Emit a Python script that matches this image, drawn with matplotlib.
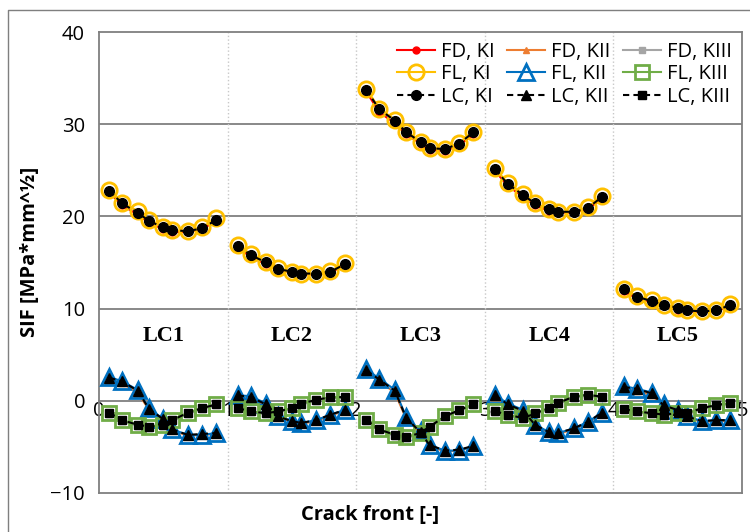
import numpy as np
import matplotlib.pyplot as plt
from matplotlib.lines import Line2D

plt.rcParams['font.family'] = ['Open Sans', 'DejaVu Sans']

# Posiciones a lo largo del frente de grieta (9 puntos por caso de carga)
crack_front = [0.08, 0.18, 0.30, 0.39, 0.50, 0.57, 0.69, 0.80, 0.91,
               1.08, 1.18, 1.30, 1.39, 1.50, 1.57, 1.69, 1.80, 1.91,
               2.08, 2.18, 2.30, 2.39, 2.50, 2.57, 2.69, 2.80, 2.91,
               3.08, 3.18, 3.30, 3.39, 3.50, 3.57, 3.69, 3.80, 3.91,
               4.08, 4.18, 4.30, 4.39, 4.50, 4.57, 4.69, 4.80, 4.91]
load_cases = ['LC1', 'LC2', 'LC3', 'LC4', 'LC5']
n_pts = 9

# KI
ki_fd = [22.6, 21.2, 20.2, 19.3, 18.6, 18.3, 18.3, 18.6, 19.5,
         16.6, 15.6, 14.8, 14.2, 13.9, 13.7, 13.7, 13.9, 14.7,
         33.5, 31.3, 30.1, 28.9, 27.9, 27.2, 27.1, 27.7, 28.9,
         24.9, 23.3, 22.1, 21.2, 20.6, 20.4, 20.4, 20.8, 21.9,
         11.9, 11.1, 10.7, 10.3, 9.9, 9.7, 9.6, 9.7, 10.3]
ki_fl = [22.9, 21.5, 20.6, 19.6, 18.9, 18.5, 18.4, 18.8, 19.8,
         16.9, 15.9, 15.1, 14.4, 14.0, 13.8, 13.8, 14.1, 14.9,
         33.8, 31.7, 30.5, 29.2, 28.1, 27.4, 27.3, 28.0, 29.2,
         25.2, 23.6, 22.4, 21.4, 20.8, 20.5, 20.5, 21.0, 22.2,
         12.1, 11.4, 10.9, 10.4, 10.1, 9.8, 9.7, 9.9, 10.5]
ki_lc = [22.8, 21.4, 20.4, 19.5, 18.8, 18.5, 18.4, 18.7, 19.6,
         16.8, 15.8, 15.0, 14.3, 14.0, 13.8, 13.8, 14.0, 14.8,
         33.7, 31.6, 30.4, 29.1, 28.1, 27.4, 27.3, 27.9, 29.1,
         25.1, 23.5, 22.3, 21.4, 20.8, 20.5, 20.5, 20.9, 22.1,
         12.1, 11.3, 10.8, 10.4, 10.1, 9.8, 9.7, 9.8, 10.4]

# KII
kii_fd = [2.3, 1.9, 0.9, -1.0, -2.1, -3.2, -3.8, -3.7, -3.6,
          0.4, 0.2, -0.5, -1.8, -2.3, -2.5, -2.2, -1.6, -1.1,
          3.1, 2.1, 0.9, -2.0, -3.5, -4.9, -5.5, -5.4, -5.0,
          0.4, -0.5, -1.2, -2.7, -3.5, -3.6, -3.1, -2.4, -1.4,
          1.3, 1.1, 0.6, -0.6, -1.1, -1.8, -2.3, -2.2, -2.2]
kii_fl = [2.6, 2.1, 1.2, -0.8, -2.0, -3.1, -3.7, -3.7, -3.5,
          0.6, 0.5, -0.3, -1.6, -2.2, -2.4, -2.1, -1.5, -1.0,
          3.4, 2.4, 1.2, -1.8, -3.3, -4.8, -5.4, -5.4, -4.9,
          0.6, -0.3, -1.0, -2.6, -3.4, -3.5, -3.0, -2.3, -1.3,
          1.6, 1.3, 0.9, -0.4, -1.0, -1.7, -2.2, -2.1, -2.1]
kii_lc = [2.5, 2.1, 1.1, -0.9, -2.0, -3.1, -3.7, -3.6, -3.5,
          0.6, 0.4, -0.4, -1.7, -2.2, -2.4, -2.1, -1.5, -1.0,
          3.3, 2.3, 1.1, -1.9, -3.4, -4.8, -5.4, -5.3, -4.9,
          0.6, -0.4, -1.1, -2.6, -3.4, -3.5, -3.0, -2.3, -1.3,
          1.5, 1.3, 0.8, -0.5, -1.0, -1.7, -2.2, -2.1, -2.1]

# KIII
kiii_fd = [-1.4, -2.2, -2.7, -2.9, -2.7, -2.2, -1.4, -0.9, -0.5,
           -0.9, -1.25, -1.45, -1.25, -0.9, -0.4, 0.0, 0.3, 0.3,
           -2.2, -3.2, -3.8, -4.0, -3.6, -2.9, -1.8, -1.1, -0.5,
           -1.25, -1.6, -2.0, -1.45, -0.9, -0.35, 0.35, 0.55, 0.35,
           -1.0, -1.25, -1.45, -1.6, -1.45, -1.45, -0.9, -0.55, -0.35]
kiii_fl = [-1.3, -2.1, -2.6, -2.8, -2.6, -2.1, -1.3, -0.8, -0.4,
           -0.8, -1.15, -1.35, -1.15, -0.8, -0.3, 0.1, 0.4, 0.4,
           -2.1, -3.1, -3.7, -3.9, -3.5, -2.8, -1.7, -1.0, -0.4,
           -1.15, -1.5, -1.9, -1.35, -0.8, -0.25, 0.45, 0.65, 0.45,
           -0.9, -1.15, -1.35, -1.5, -1.35, -1.35, -0.8, -0.45, -0.25]
kiii_lc = [-1.3, -2.1, -2.6, -2.8, -2.6, -2.1, -1.3, -0.8, -0.4,
           -0.8, -1.15, -1.35, -1.15, -0.8, -0.3, 0.1, 0.4, 0.4,
           -2.1, -3.1, -3.7, -3.9, -3.5, -2.8, -1.7, -1.0, -0.4,
           -1.15, -1.5, -1.9, -1.35, -0.8, -0.25, 0.45, 0.65, 0.45,
           -0.9, -1.15, -1.35, -1.5, -1.35, -1.35, -0.8, -0.45, -0.25]

fig = plt.figure(figsize=(7.5, 5.32), dpi=100)
ax = fig.add_axes([99/750, 1 - 493/532, (742 - 99)/750, (493 - 32)/532])

grey = '#7f7f7f'
for y in [10, 20, 30]:
    ax.axhline(y, color=grey, lw=1.3, zorder=1)
for x in [1, 2, 3, 4]:
    ax.axvline(x, color='#c8c8c8', lw=1, ls=':', zorder=1)
ax.axhline(-10, color=grey, lw=1.3, clip_on=False, zorder=1)


def serie(valores, label, **kw):
    x = np.array(crack_front)
    y = np.array(valores)
    for i in range(len(load_cases)):
        s = slice(i*n_pts, (i+1)*n_pts)
        ax.plot(x[s], y[s], label=label if i == 0 else None, zorder=3, **kw)


# FD
serie(ki_fd, 'FD, KI', color='#ff0000', lw=1.5, marker='o', ms=5)
serie(kii_fd, 'FD, KII', color='#ed7d31', lw=1.5, marker='^', ms=5)
serie(kiii_fd, 'FD, KIII', color='#a5a5a5', lw=1.5, marker='s', ms=4.5)
# FL
serie(ki_fl, 'FL, KI', color='#ffc000', lw=1.5, marker='o', ms=11,
      mfc='none', mew=2)
serie(kii_fl, 'FL, KII', color='#0070c0', lw=1.5, marker='^', ms=11,
      mfc='none', mew=2)
serie(kiii_fl, 'FL, KIII', color='#70ad47', lw=1.5, marker='s', ms=10,
      mfc='none', mew=2)
# LC
serie(ki_lc, 'LC, KI', color='black', lw=1.5, ls=(0, (3, 2)), marker='o', ms=7)
serie(kii_lc, 'LC, KII', color='black', lw=1.5, ls=(0, (3, 2)), marker='^', ms=7)
serie(kiii_lc, 'LC, KIII', color='black', lw=1.5, ls=(0, (3, 2)), marker='s', ms=6)

for i, lc in enumerate(load_cases):
    ax.text(i + 0.5, 7.0, lc, family='Liberation Serif', weight='bold',
            fontsize=16, ha='center', va='center', zorder=4)

ax.set_xlim(0, 5)
ax.set_ylim(-10, 40)
ax.set_xticks([0, 1, 2, 3, 4, 5])
ax.set_yticks([-10, 0, 10, 20, 30, 40])
ax.spines['bottom'].set_position(('data', 0))
for sp in ax.spines.values():
    sp.set_color(grey)
    sp.set_linewidth(1.3)
ax.tick_params(axis='both', length=0, labelsize=14.5)
ax.tick_params(axis='y', pad=10)
ax.tick_params(axis='x', pad=0)

h, l = ax.get_legend_handles_labels()
orden = [0, 3, 6, 1, 4, 7, 2, 5, 8]
ax.legend([h[i] for i in orden], [l[i] for i in orden], ncol=3,
          loc='upper right', bbox_to_anchor=(1.0, 1.0), frameon=False,
          fontsize=14.5, handlelength=1.9, columnspacing=0.6,
          handletextpad=0.3, labelspacing=0.12, borderaxespad=0.1)

fig.text(370/750, 1 - 515/532, 'Crack front [-]', fontsize=14.5,
         weight='bold', ha='center', va='center')
fig.text(30/750, 1 - 252/532, 'SIF [MPa*mm^½]', fontsize=14.5,
         weight='bold', ha='center', va='center', rotation=90)

fig.add_artist(Line2D([8/750, 8/750, 1], [0, 1 - 10/532, 1 - 10/532],
                      transform=fig.transFigure, color=grey, lw=1))

fig.savefig('out.png', dpi=100)
